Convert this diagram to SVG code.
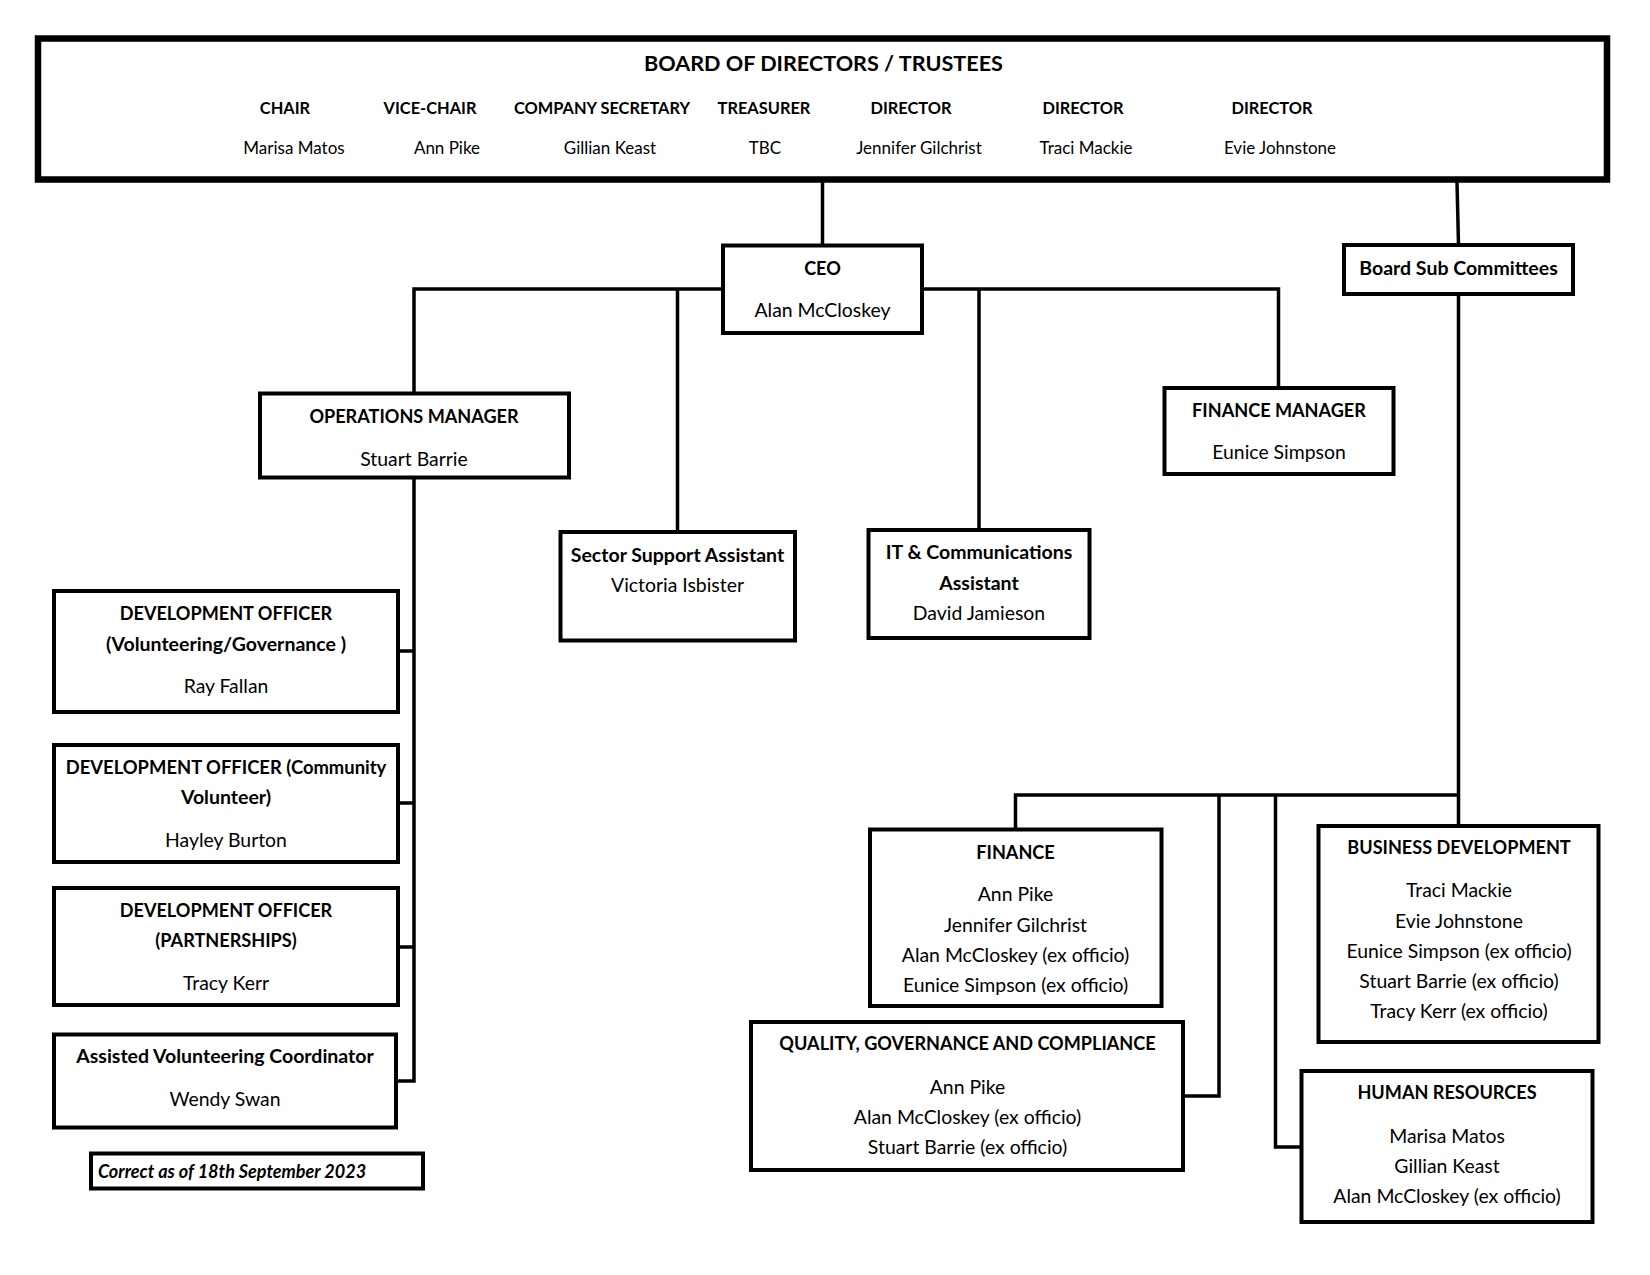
<svg xmlns="http://www.w3.org/2000/svg" width="1650" height="1275" viewBox="0 0 1650 1275">
<style>
text{font-family:Lato,"Liberation Sans",sans-serif;fill:#000;text-anchor:middle}
.h{font-weight:bold;font-size:18.1px}
.hm{font-weight:bold;font-size:19.5px}
.n{font-size:19.4px}
.t{font-weight:bold;font-size:21.6px}
.sh{font-weight:bold;font-size:16.4px}
.sn{font-size:17px}
.it{font-weight:bold;font-style:italic;font-size:18px;text-anchor:start}
.box{fill:#fff;stroke:#000;stroke-width:4}
.con{fill:none;stroke:#000;stroke-width:3.5}
</style>
<rect width="1650" height="1275" fill="#fff"/>
<g id="connectors">
<path class="con" d="M822.5 182V245"/>
<path class="con" d="M414 393.5V289H723"/>
<path class="con" d="M677.5 289V532"/>
<path class="con" d="M923 289H1278.5V388"/>
<path class="con" d="M979 289V530"/>
<path class="con" d="M1457 182L1458.5 245"/>
<path class="con" d="M1458.5 294V826"/>
<path class="con" d="M1015.5 829.5V795H1458.5"/>
<path class="con" d="M1219 795V1096H1185"/>
<path class="con" d="M1275.5 795V1147H1301.5"/>
<path class="con" d="M414 479V1081H398"/>
<path class="con" d="M398 651H414M398 803H414M398 947H414"/>
</g>
<g id="board">
<rect x="38" y="38.5" width="1569" height="141" fill="#fff" stroke="#000" stroke-width="6.5"/>
<text class="t" x="823.5" y="71">BOARD OF DIRECTORS / TRUSTEES</text>
<text class="sh" x="285" y="114">CHAIR</text>
<text class="sh" x="430" y="114">VICE-CHAIR</text>
<text class="sh" x="602" y="114">COMPANY SECRETARY</text>
<text class="sh" x="764" y="114">TREASURER</text>
<text class="sh" x="911" y="114">DIRECTOR</text>
<text class="sh" x="1083" y="114">DIRECTOR</text>
<text class="sh" x="1272" y="114">DIRECTOR</text>
<text class="sn" x="294" y="154">Marisa Matos</text>
<text class="sn" x="447" y="154">Ann Pike</text>
<text class="sn" x="610" y="154">Gillian Keast</text>
<text class="sn" x="765" y="154">TBC</text>
<text class="sn" x="919" y="154">Jennifer Gilchrist</text>
<text class="sn" x="1086" y="154">Traci Mackie</text>
<text class="sn" x="1280" y="154">Evie Johnstone</text>
</g>
<g id="ceo">
<rect class="box" x="723" y="245.5" width="199" height="87.5"/>
<text class="h" x="822.5" y="274.5">CEO</text>
<text class="n" x="822.5" y="317">Alan McCloskey</text>
</g>
<g id="board-sub-committees">
<rect class="box" x="1344" y="245" width="229" height="49"/>
<text class="hm" x="1458.5" y="275">Board Sub Committees</text>
</g>
<g id="operations-manager">
<rect class="box" x="260" y="393.5" width="309" height="84"/>
<text class="h" x="414" y="422.5">OPERATIONS MANAGER</text>
<text class="n" x="414" y="465.5">Stuart Barrie</text>
</g>
<g id="sector-support">
<rect class="box" x="560.5" y="532" width="234.5" height="108.5"/>
<text class="hm" x="677.5" y="562">Sector Support Assistant</text>
<text class="n" x="677.5" y="591.5">Victoria Isbister</text>
</g>
<g id="it-communications">
<rect class="box" x="868.5" y="530" width="221" height="108"/>
<text class="hm" x="979" y="559">IT &amp; Communications</text>
<text class="hm" x="979" y="589.5">Assistant</text>
<text class="n" x="979" y="620">David Jamieson</text>
</g>
<g id="finance-manager">
<rect class="box" x="1164.5" y="388" width="229" height="86"/>
<text class="h" x="1279" y="417">FINANCE MANAGER</text>
<text class="n" x="1279" y="459">Eunice Simpson</text>
</g>
<g id="dev-officer-volunteering">
<rect class="box" x="54" y="591" width="344" height="121"/>
<text class="h" x="226" y="620">DEVELOPMENT OFFICER</text>
<text class="hm" x="226" y="650.5">(Volunteering/Governance )</text>
<text class="n" x="226" y="692.5">Ray Fallan</text>
</g>
<g id="dev-officer-community">
<rect class="box" x="54" y="745" width="344" height="117"/>
<text class="h" x="226" y="774" style="font-size:18.4px">DEVELOPMENT OFFICER (Community</text>
<text class="hm" x="226" y="804">Volunteer)</text>
<text class="n" x="226" y="847">Hayley Burton</text>
</g>
<g id="dev-officer-partnerships">
<rect class="box" x="54" y="888" width="344" height="117"/>
<text class="h" x="226" y="917">DEVELOPMENT OFFICER</text>
<text class="h" x="226" y="947">(PARTNERSHIPS)</text>
<text class="n" x="226" y="990">Tracy Kerr</text>
</g>
<g id="assisted-volunteering">
<rect class="box" x="54" y="1034.5" width="342" height="93"/>
<text class="hm" x="225" y="1062.5">Assisted Volunteering Coordinator</text>
<text class="n" x="225" y="1106">Wendy Swan</text>
</g>
<g id="date-note">
<rect class="box" x="91" y="1153.5" width="332" height="35"/>
<text class="it" x="98" y="1178">Correct as of 18th September 2023</text>
</g>
<g id="finance">
<rect class="box" x="870" y="829.5" width="291.5" height="176.5"/>
<text class="h" x="1015.5" y="858.5">FINANCE</text>
<text class="n" x="1015.5" y="901">Ann Pike</text>
<text class="n" x="1015.5" y="931.5">Jennifer Gilchrist</text>
<text class="n" x="1015.5" y="961.5">Alan McCloskey (ex officio)</text>
<text class="n" x="1015.5" y="992">Eunice Simpson (ex officio)</text>
</g>
<g id="quality-governance">
<rect class="box" x="751" y="1022" width="432" height="148"/>
<text class="h" x="967.5" y="1050">QUALITY, GOVERNANCE AND COMPLIANCE</text>
<text class="n" x="967.5" y="1093.5">Ann Pike</text>
<text class="n" x="967.5" y="1123.5">Alan McCloskey (ex officio)</text>
<text class="n" x="967.5" y="1153.5">Stuart Barrie (ex officio)</text>
</g>
<g id="business-development">
<rect class="box" x="1318.5" y="826" width="280" height="216"/>
<text class="h" x="1459" y="854">BUSINESS DEVELOPMENT</text>
<text class="n" x="1459" y="897">Traci Mackie</text>
<text class="n" x="1459" y="927.5">Evie Johnstone</text>
<text class="n" x="1459" y="957.5">Eunice Simpson (ex officio)</text>
<text class="n" x="1459" y="988">Stuart Barrie (ex officio)</text>
<text class="n" x="1459" y="1018">Tracy Kerr (ex officio)</text>
</g>
<g id="human-resources">
<rect class="box" x="1301.5" y="1071" width="291" height="151"/>
<text class="h" x="1447" y="1099">HUMAN RESOURCES</text>
<text class="n" x="1447" y="1142.5">Marisa Matos</text>
<text class="n" x="1447" y="1172.5">Gillian Keast</text>
<text class="n" x="1447" y="1202.5">Alan McCloskey (ex officio)</text>
</g>
</svg>
